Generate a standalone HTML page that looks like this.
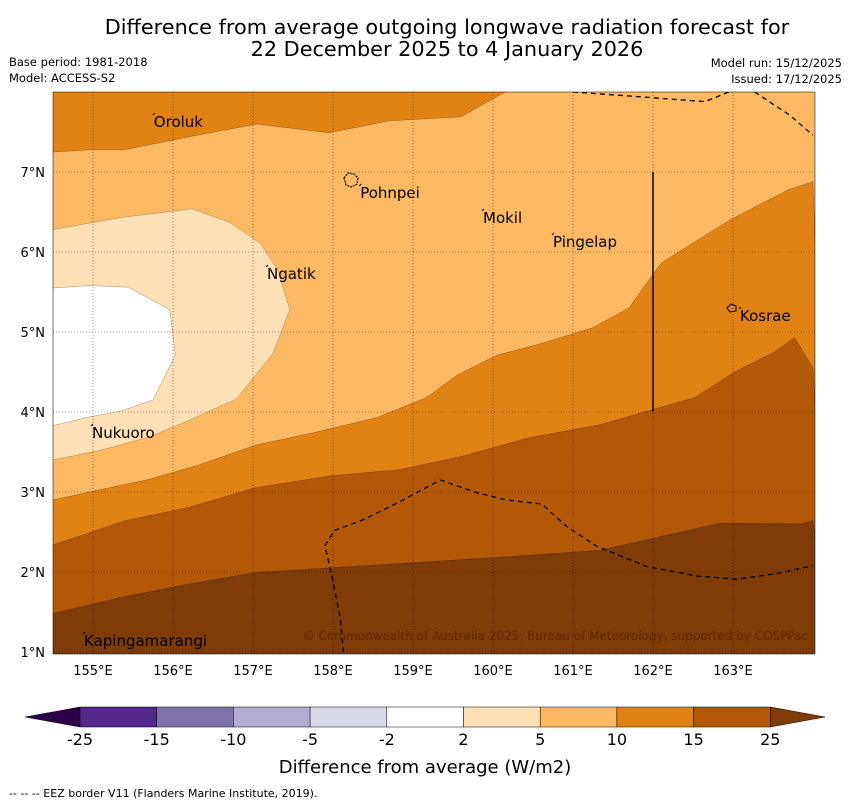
<!DOCTYPE html>
<html><head><meta charset="utf-8"><style>
body{margin:0;background:#fff;width:850px;height:804px;overflow:hidden;font-family:"Liberation Sans","DejaVu Sans",sans-serif}
</style></head><body>
<svg id="s" width="850" height="804" xmlns="http://www.w3.org/2000/svg" font-family="DejaVu Sans, Liberation Sans, sans-serif">
<text x="447" y="34" font-size="20.8" text-anchor="middle">Difference from average outgoing longwave radiation forecast for</text>
<text x="447" y="56" font-size="20.8" text-anchor="middle">22 December 2025 to 4 January 2026</text>
<text x="9" y="66" font-size="11.5">Base period: 1981-2018</text>
<text x="9" y="82" font-size="11.5">Model: ACCESS-S2</text>
<text x="842" y="67" font-size="11.5" text-anchor="end">Model run: 15/12/2025</text>
<text x="842" y="83" font-size="11.5" text-anchor="end">Issued: 17/12/2025</text>
<defs><clipPath id="mc"><rect x="53" y="92" width="762" height="562"/></clipPath></defs>
<g id="map" clip-path="url(#mc)"></g>
<g id="over"></g>
<g id="cb"></g>
<text x="425" y="773" font-size="18" text-anchor="middle">Difference from average (W/m2)</text>
<text x="9" y="797" font-size="11">--  --  -- EEZ border V11 (Flanders Marine Institute, 2019).</text>
</svg>
<script>
const lonTicks=[155,156,157,158,159,160,161,162,163];
const latTicks=[1,2,3,4,5,6,7];
const cbLevels=["-25","-15","-10","-5","-2","2","5","10","15","25"];
const cbColors=["#542788","#8073ac","#b2abd2","#d8daeb","#ffffff","#fee0b6","#fdb863","#e08214","#b35806"];
// contour boundaries [lon,lat]
const topOrange=[[154.5,7.25],[155,7.28],[155.4,7.28],[156.3,7.46],[157.05,7.6],[157.95,7.49],[158.7,7.64],[159.6,7.69],[160.15,8]];
const orangeEdge=[[164,6.88],[163.7,6.78],[162.96,6.4],[162.1,5.86],[161.7,5.3],[161.24,5.05],[160.55,4.84],[160.05,4.71],[159.55,4.46],[159.17,4.18],[158.55,3.93],[157.8,3.75],[157.05,3.59],[156.3,3.33],[155.67,3.15],[155.05,3.02],[154.5,2.9]];
const brownEdge=[[154.5,2.34],[154.84,2.45],[155.4,2.64],[156.21,2.81],[157.02,3.05],[157.96,3.2],[158.84,3.28],[159.59,3.44],[160.46,3.68],[161.34,3.84],[161.96,4.02],[162.52,4.18],[163.02,4.5],[163.52,4.75],[163.77,4.93],[164,4.55]];
const darkEdge=[[154.5,1.48],[155.34,1.68],[156.21,1.85],[157.02,1.99],[158.09,2.06],[159.09,2.12],[160.34,2.2],[161.34,2.27],[162.09,2.44],[162.84,2.61],[163.84,2.6],[164,2.64]];
const lightRegion=[[154.5,6.28],[155.34,6.43],[156.24,6.54],[156.71,6.37],[157.09,6.11],[157.31,5.78],[157.46,5.28],[157.25,4.73],[156.79,4.16],[156.21,3.9],[155.71,3.69],[155.09,3.52],[154.5,3.4]];
const whiteRegion=[[154.5,5.55],[154.96,5.58],[155.44,5.56],[155.96,5.28],[156.03,4.71],[155.75,4.15],[155.34,4.01],[154.96,3.94],[154.5,3.83]];
const eez1=[[161,8],[161.84,7.94],[162.65,7.88],[163.02,8.03]];
const eez2=[[163.27,8],[163.71,7.71],[164,7.46]];
const eez3=[[158.13,1],[158.09,1.43],[157.99,1.93],[157.9,2.33],[158.02,2.52],[158.37,2.65],[158.8,2.86],[159.34,3.15],[159.8,2.99],[160.17,2.9],[160.61,2.85],[160.92,2.57],[161.3,2.32],[161.92,2.07],[162.55,1.95],[163.05,1.91],[163.55,1.98],[164,2.08]];
const places=[["Oroluk",155.76,7.5625],["Pohnpei",158.34,6.675],["Mokil",159.875,6.3625],["Pingelap",160.75,6.0625],["Ngatik",157.175,5.6625],["Kosrae",163.0875,5.1375],["Nukuoro",154.9875,3.675],["Kapingamarangi",154.8875,1.075]];
const X=l=>93+(l-155)*80, Y=l=>172-(l-7)*80;
const NS="http://www.w3.org/2000/svg";
function mk(p,t,a){const e=document.createElementNS(NS,t);for(const k in a)e.setAttribute(k,a[k]);p.appendChild(e);return e;}
const pts=a=>a.map(p=>X(p[0]).toFixed(1)+","+Y(p[1]).toFixed(1)).join(" ");
const map=document.getElementById('map'),over=document.getElementById('over'),cb=document.getElementById('cb');
let e;
e=mk(map,'rect',{x:53,y:92,width:762,height:562,fill:'#fdb863'});


e=mk(map,'polygon',{points:"40,80 "+pts(topOrange),fill:'#e08214',stroke:'#7a4a10','stroke-width':0.4});


e=mk(map,'polygon',{points:pts(orangeEdge)+" 40,670 830,670",fill:'#e08214',stroke:'#7a4a10','stroke-width':0.4});


e=mk(map,'polygon',{points:pts(brownEdge)+" 830,670 40,670",fill:'#b35806',stroke:'#5a3000','stroke-width':0.4});


e=mk(map,'polygon',{points:pts(darkEdge)+" 830,670 40,670",fill:'#7f3b08',stroke:'#402000','stroke-width':0.4});


e=mk(map,'polygon',{points:pts(lightRegion),fill:'#fee0b6',stroke:'#a07040','stroke-width':0.4});


e=mk(map,'polygon',{points:pts(whiteRegion),fill:'#ffffff',stroke:'#a07040','stroke-width':0.4});


lonTicks.forEach(l=>{e=mk(map,'line',{x1:X(l),x2:X(l),y1:92,y2:654,stroke:'#000','stroke-width':0.6,'stroke-dasharray':'1,2',opacity:0.7});


e=mk(over,'text',{x:X(l),y:675,'font-size':13,'text-anchor':'middle'});e.textContent=l+"°E";

});
latTicks.forEach(l=>{e=mk(map,'line',{x1:53,x2:815,y1:Y(l),y2:Y(l),stroke:'#000','stroke-width':0.6,'stroke-dasharray':'1,2',opacity:0.7});


e=mk(over,'text',{x:45,y:Y(l)+5,'font-size':13,'text-anchor':'end'});e.textContent=l+"°N";

});
[eez1,eez2,eez3].forEach(a=>{e=mk(map,'polyline',{points:pts(a),fill:'none',stroke:'#000','stroke-width':1.3,'stroke-dasharray':'5,4'});

});
e=mk(map,'line',{x1:X(162),x2:X(162),y1:Y(7),y2:Y(4),stroke:'#000','stroke-width':1.5});


places.forEach(p=>{e=mk(map,'text',{x:X(p[1]),y:Y(p[2]),'font-size':15});e.textContent=p[0];


e=mk(map,'line',{x1:X(p[1])-1,y1:Y(p[2])-12,x2:X(p[1])+1,y2:Y(p[2])-14,stroke:'#000','stroke-width':1});

});
e=mk(map,'path',{d:"M344,178 l4,-5 l6,1 l4,4 l-1,6 l-6,3 l-5,-2 z",fill:'none',stroke:'#000','stroke-width':1.2,'stroke-dasharray':'2,1'});


e=mk(map,'path',{d:"M727,308 l4,-4 l5,2 l0,5 l-6,1 z",fill:'none',stroke:'#000','stroke-width':1});


e=mk(map,'text',{x:808,y:640,'font-size':12,'text-anchor':'end',fill:'#5a2a00'});e.textContent="© Commonwealth of Australia 2025, Bureau of Meteorology, supported by COSPPac";


e=mk(over,'rect',{x:53,y:92,width:762,height:562,fill:'none',stroke:'#000','stroke-width':0.5});


// colorbar
const cx0=80,cw=76.7,cy=707,ch=20;
e=mk(cb,'polygon',{points:`25,717 ${cx0},${cy} ${cx0},${cy+ch}`,fill:'#2d004b',stroke:'#000','stroke-width':0.5});


const xe=cx0+cw*cbColors.length;
e=mk(cb,'polygon',{points:`${xe},${cy} 825,717 ${xe},${cy+ch}`,fill:'#7f3b08',stroke:'#000','stroke-width':0.5});


cbColors.forEach((c,i)=>{e=mk(cb,'rect',{x:cx0+i*cw,y:cy,width:cw,height:ch,fill:c,stroke:'#000','stroke-width':0.5});

});
cbLevels.forEach((t,i)=>{e=mk(cb,'text',{x:cx0+i*cw,y:745,'font-size':16,'text-anchor':'middle'});e.textContent=t;

});
</script>
</body></html>
